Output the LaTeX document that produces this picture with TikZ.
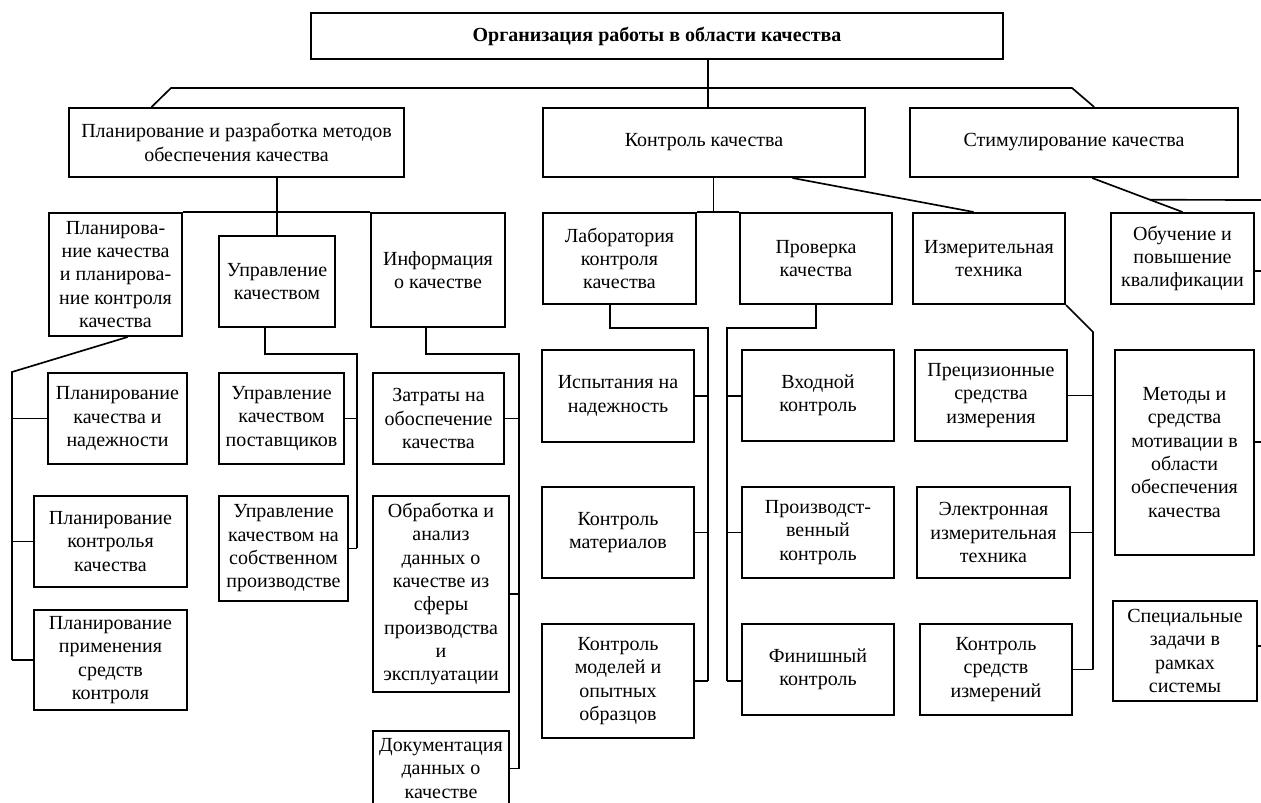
\documentclass[tikz,border=0pt]{standalone}
\usepackage{fontspec}
\setmainfont{Liberation Serif}
\usetikzlibrary{calc, fit}

\begin{document}
\begin{tikzpicture}[x=0.6pt, y=-0.6pt,
    box/.style={draw, line width=1.2pt, inner sep=0pt},
    txt/.style={inner sep=0pt, align=center, font=\fontsize{12}{14}\selectfont},
    link/.style={line width=1pt}]

\useasboundingbox[fill=white] (0,0) rectangle (1261,803);

% ── TOP LEVEL ────────────────────────────────────────────────────
\node[box, fit={(311,13) (1003,59)},
    label={[txt, font=\fontsize{12}{14}\selectfont\bfseries]center:Организация работы в области качества}] (org) {};

\node[box, fit={(69,108) (404,177)},
    label={[txt]center:{Планирование и разработка методов\\обеспечения качества}}] (plan) {};
\node[box, fit={(543,108) (865,177)}, label={[txt]center:Контроль качества}] (kk) {};
\node[box, fit={(910,108) (1238,177)}, label={[txt]center:Стимулирование качества}] (stim) {};

% Bus under the title
\coordinate (bL) at (171,88);
\coordinate (bR) at (1072,88);
\coordinate (bC) at (708,88);
\draw[link] (org.south -| bC) -- (kk.north -| bC);
\draw[link] ($(plan.north west)!0.248!(plan.north east)$) -- (bL) -- (bR)
    -- ($(stim.north west)!0.561!(stim.north east)$);

% ── LEFT: PLANNING ───────────────────────────────────────────────
\node[box, fit={(49,213) (182,336)},
    label={[txt]center:{Планирова-\\ние качества\\и планирова-\\ние контроля\\качества}}] (pq) {};
\node[box, fit={(219,236) (335,327)}, label={[txt]center:{Управление\\качеством}}] (upr) {};
\node[box, fit={(371,213) (505,327)}, label={[txt]center:{Информация\\о качестве}}] (info) {};

\draw[link] (plan.south -| upr.north) -- (upr.north);
\draw[link] (pq.north east) -- (info.north west);

\node[box, fit={(48,373) (187,464)},
    label={[txt]center:{Планирование\\качества и\\надежности}}] (pk1) {};
\node[box, fit={(34,496) (187,587)},
    label={[txt]center:{Планирование\\контролья\\качества}}] (pk2) {};
\node[box, fit={(34,610) (187,710)},
    label={[txt]center:{Планирование\\применения\\средств\\контроля}}] (pk3) {};

\node[box, fit={(219,373) (344,464)},
    label={[txt]center:{Управление\\качеством\\поставщиков}}] (uk1) {};
\node[box, fit={(219,496) (348,601)},
    label={[txt]center:{Управление\\качеством на\\собственном\\производстве}}] (uk2) {};

\node[box, fit={(373,373) (504,464)},
    label={[txt]center:{Затраты на\\обоспечение\\качества}}] (z1) {};
\node[box, fit={(373,496) (509,692)},
    label={[txt]center:{Обработка и\\анализ\\данных о\\качестве из\\сферы\\производства\\и\\эксплуатации}}] (z2) {};
\node[box, fit={(373,731) (509,806)},
    label={[txt]center:{Документация\\данных о\\качестве}}] (z3) {};

% Buses of the left group
\coordinate (qa) at ($(pq.south west)!0.59!(pq.south east)$);
\coordinate (qb) at (12,372);
\draw[link] (qa) -- (qb) -- (qb |- pk3.west);
\foreach \n in {pk1,pk2,pk3}
    \draw[link] (\n.west) -- (\n.west -| qb);

\coordinate (ua) at ($(upr.south west)!0.4!(upr.south east)$);
\coordinate (ub) at (357,354);
\draw[link] (ua) -- (ua |- ub) -- (ub) -- (ub |- uk2.east);
\foreach \n in {uk1,uk2}
    \draw[link] (\n.east) -- (\n.east -| ub);

\coordinate (ia) at ($(info.south west)!0.41!(info.south east)$);
\coordinate (ib) at (519,354);
\draw[link] (ia) -- (ia |- ib) -- (ib) -- (ib |- z3.east);
\foreach \n in {z1,z2,z3}
    \draw[link] (\n.east) -- (\n.east -| ib);

% ── MIDDLE: CONTROL ──────────────────────────────────────────────
\node[box, fit={(543,213) (696,304)},
    label={[txt]center:{Лаборатория\\контроля\\качества}}] (lab) {};
\node[box, fit={(740,213) (892,304)}, label={[txt]center:{Проверка\\качества}}] (prov) {};
\node[box, fit={(913,213) (1065,304)}, label={[txt]center:{Измерительная\\техника}}] (izm) {};

\coordinate (kj) at ($(lab.north east)!0.39!(prov.north west)$);
\draw[link] (kk.south -| kj) -- (kj);
\draw[link] (lab.north east) -- (prov.north west);
\draw[link] ($(kk.south west)!0.773!(kk.south east)$)
    -- ($(izm.north west)!0.4!(izm.north east)$);

\node[box, fit={(542,350) (694,442)}, label={[txt]center:{Испытания на\\надежность}}] (in1) {};
\node[box, fit={(542,487) (694,578)}, label={[txt]center:{Контроль\\материалов}}] (in2) {};
\node[box, fit={(542,624) (694,738)},
    label={[txt]center:{Контроль\\моделей и\\опытных\\образцов}}] (in3) {};

\node[box, fit={(742,350) (894,441)}, label={[txt]center:{Входной\\контроль}}] (p1) {};
\node[box, fit={(742,487) (894,578)},
    label={[txt]center:{Производст-\\венный\\контроль}}] (p2) {};
\node[box, fit={(742,624) (894,715)}, label={[txt]center:{Финишный\\контроль}}] (p3) {};

\node[box, fit={(915,350) (1067,441)},
    label={[txt]center:{Прецизионные\\средства\\измерения}}] (m1) {};
\node[box, fit={(917,487) (1070,578)},
    label={[txt]center:{Электронная\\измерительная\\техника}}] (m2) {};
\node[box, fit={(920,624) (1072,715)},
    label={[txt]center:{Контроль\\средств\\измерений}}] (m3) {};

% Buses of the middle group
\coordinate (la) at ($(lab.south west)!0.44!(lab.south east)$);
\coordinate (lb) at (708,328);
\draw[link] (la) -- (la |- lb) -- (lb) -- (lb |- in3.east);
\foreach \n in {in1,in2,in3}
    \draw[link] (\n.east) -- (\n.east -| lb);

\coordinate (pb) at (727,328);
\draw[link] (prov.south) -- (prov.south |- pb) -- (pb) -- (pb |- in3.east);
\foreach \a/\b in {in1/p1, in2/p2, in3/p3}
    \draw[link] (\b.west |- \a.east) -- (pb |- \a.east);

\coordinate (mb) at (1093,332);
\draw[link] (izm.south east) -- (mb) -- (mb |- m3.east);
\foreach \n in {m1,m2,m3}
    \draw[link] (\n.east) -- (\n.east -| mb);

% ── RIGHT: STIMULATION ───────────────────────────────────────────
\node[box, fit={(1111,213) (1254,304)},
    label={[txt]center:{Обучение и\\повышение\\квалификации}}] (obuch) {};
\node[box, fit={(1115,350) (1254,555)},
    label={[txt]center:{Методы и\\средства\\мотивации в\\области\\обеспечения\\качества}}] (s1) {};
\node[box, fit={(1113,601) (1257,701)},
    label={[txt]center:{Специальные\\задачи в\\рамках\\системы}}] (s2) {};

\coordinate (sd) at ($(stim.south west)!0.555!(stim.south east)$);
\coordinate (e0) at (1261,200);
\coordinate (e1) at (1261,271);
\coordinate (e2) at (1261,442);
\coordinate (e3) at (1261,646);
\draw[link] (sd) -- (obuch.north);
\draw[link] ($(sd)!0.64!(obuch.north)$) -- (e0);
\draw[link] (obuch.east |- e1) -- (e1);
\draw[link] (s1.east |- e2) -- (e2);
\draw[link] (s2.east |- e3) -- (e3);

\end{tikzpicture}
\end{document}
